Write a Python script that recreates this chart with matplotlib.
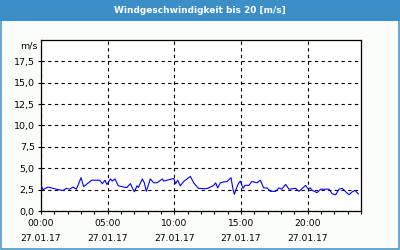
import matplotlib.pyplot as plt
from matplotlib.patches import Rectangle

# hours since 00:00 on 27.01.17 and wind speed [m/s]
hours = [0.0, 0.15, 0.53, 0.9, 1.28, 1.65, 1.9, 2.15, 2.4, 2.65, 2.8, 3.0, 3.2,
         3.8, 4.4, 4.6, 4.8, 4.95, 5.2, 5.35, 5.55, 5.8, 6.2, 6.44, 6.7, 6.9,
         7.0, 7.2, 7.3, 7.6, 7.75, 7.9, 8.2, 8.45, 8.7, 9.1, 9.2, 9.45, 9.95,
         10.1, 10.25, 10.45, 10.7, 10.95, 11.2, 11.45, 11.8, 12.3, 12.5, 12.96,
         13.1, 13.25, 13.45, 13.7, 13.96, 14.25, 14.4, 14.5, 14.66, 14.8, 14.95,
         15.16, 15.3, 15.6, 15.8, 16.2, 16.45, 16.7, 16.96, 17.2, 17.6, 17.85,
         18.05, 18.35, 18.6, 19.1, 19.35, 19.6, 19.85, 20.05, 20.2, 20.35,
         20.7, 20.98, 21.35, 21.6, 21.85, 22.1, 22.35, 22.6, 22.85, 23.1,
         23.35, 23.55, 23.8]
speed = [3.05, 2.5, 2.8, 2.65, 2.5, 2.4, 2.65, 2.55, 2.8, 2.55, 3.1, 3.9, 2.85,
         3.6, 3.6, 3.2, 3.6, 3.1, 3.75, 3.5, 3.75, 2.95, 2.8, 2.75, 3.2, 2.55,
         2.25, 2.95, 2.75, 3.75, 3.3, 2.3, 3.75, 3.3, 3.3, 3.75, 3.5, 3.6, 3.8,
         3.2, 3.6, 2.95, 3.45, 3.75, 4.05, 3.3, 2.65, 2.6, 2.65, 3.0, 3.3, 2.7,
         3.3, 3.4, 3.45, 3.9, 2.55, 1.95, 2.65, 3.2, 3.5, 2.65, 3.0, 3.0, 3.45,
         3.3, 3.6, 2.7, 2.7, 2.3, 2.3, 2.7, 2.55, 3.1, 2.55, 2.65, 2.3, 2.65,
         3.0, 2.55, 2.7, 2.4, 2.15, 2.55, 2.55, 2.55, 2.0, 1.9, 2.55, 2.65,
         2.25, 1.9, 2.25, 2.4, 2.0]

xticks = [0, 5, 10, 15, 20]
xlabels = ["00:00\n27.01.17", "05:00\n27.01.17", "10:00\n27.01.17",
           "15:00\n27.01.17", "20:00\n27.01.17"]
yticks = [0, 2.5, 5, 7.5, 10, 12.5, 15, 17.5]
ylabels = ["0,0", "2,5", "5,0", "7,5", "10,0", "12,5", "15,0", "17,5"]

blue = "#3c8fc6"
fig = plt.figure(figsize=(4, 2.5), dpi=100, facecolor="#fbfdfb")

# frame first, then the title bar over it
fig.patches.append(Rectangle((0.75, 0.75), 398.5, 248, transform=None,
                             facecolor="none", edgecolor=blue, lw=1.1, figure=fig))
fig.patches.append(Rectangle((0, 250 - 20.5), 400, 20.5, transform=None,
                             facecolor=blue, edgecolor="none", figure=fig))
fig.text(0.5, 1 - 10.5 / 250, "Windgeschwindigkeit bis 20 [m/s]", color="white",
         fontsize=6.5, fontweight="bold", ha="center", va="center")

ax = fig.add_axes([41 / 400, 39 / 250, 320 / 400, 171 / 250])
ax.set_facecolor("white")
ax.plot(hours, speed, color="#0000ff", lw=0.8)

ax.set_xlim(0, 24)
ax.set_ylim(0, 20)
ax.set_xticks(xticks)
ax.set_xticklabels(xlabels, fontsize=6.6, linespacing=1.85)
ax.set_xticks(range(0, 25), minor=True)
ax.set_yticks(yticks)
ax.set_yticklabels(ylabels, fontsize=6.8)
ax.tick_params(which="both", length=2.5, width=0.8, direction="out", pad=2)
ax.tick_params(axis="x", which="major", pad=3)
ax.grid(True, color="black", linestyle=(0, (3, 3)), lw=0.8)
for s in ax.spines.values():
    s.set_linewidth(0.9)
ax.text(-0.012, 0.965, "m/s", transform=ax.transAxes, fontsize=6.8,
        ha="right", va="center")

plt.savefig("out.png", dpi=100, facecolor=fig.get_facecolor())
